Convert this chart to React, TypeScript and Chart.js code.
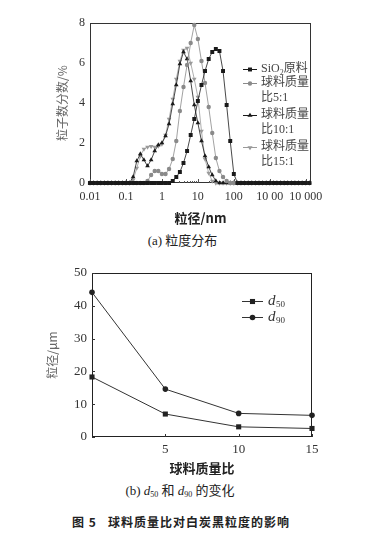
import React, { useEffect, useRef } from 'react';
import { Chart, registerables } from 'chart.js';

Chart.register(...registerables);

// ---------- (a) particle size distribution ----------
const SIZE_BINS = [
  0.01, 0.0126, 0.0158, 0.02, 0.0251, 0.0316, 0.0398, 0.0501, 0.0631, 0.0794,
  0.1, 0.126, 0.158, 0.2, 0.251, 0.316, 0.398, 0.501, 0.631, 0.794,
  1, 1.26, 1.58, 2, 2.51, 3.16, 3.98, 5.01, 6.31, 7.94,
  10, 12.6, 15.8, 20, 25.1, 31.6, 39.8, 50.1, 63.1, 79.4,
  100, 126, 158, 200, 251, 316, 398, 501, 631, 794,
  1000, 1260, 1580, 2000, 2510, 3160, 3980, 5010, 6310, 7940,
  10000, 12600,
];

const SIO2_RAW = [
  0, 0, 0, 0, 0, 0, 0, 0, 0, 0,
  0, 0, 0, 0, 0, 0, 0, 0, 0, 0,
  0, 0, 0, 0.1, 0.3, 0.55, 1.0, 1.6, 2.4, 3.2,
  4.1, 4.9, 5.6, 6.2, 6.55, 6.7, 6.6, 5.6, 3.9, 2.1,
  0.45, 0, 0, 0, 0, 0, 0, 0, 0, 0,
  0, 0, 0, 0, 0, 0, 0, 0, 0, 0,
  0, 0,
];

const RATIO_5_1 = [
  0, 0, 0, 0, 0, 0, 0, 0, 0, 0,
  0, 0, 0, 0, 0, 0, 0.1, 0.4, 0.6, 0.6,
  0.45, 0.45, 0.7, 1.2, 2.1, 3.6, 4.8, 5.9, 7.0, 7.9,
  7.2, 6.1, 5.0, 3.8, 2.5, 1.25, 0.6, 0.3, 0.1, 0,
  0, 0, 0, 0, 0, 0, 0, 0, 0, 0,
  0, 0, 0, 0, 0, 0, 0, 0, 0, 0,
  0, 0,
];

const RATIO_10_1 = [
  0, 0, 0, 0, 0, 0, 0, 0, 0, 0,
  0, 0, 0.3, 1.1, 1.45, 1.15, 0.85, 1.15, 1.6, 1.9,
  2.0, 2.35, 2.95, 3.95, 4.9, 5.95, 6.55, 6.2, 5.1, 3.9,
  3.0, 2.1, 1.35, 0.8, 0.4, 0.1, 0, 0, 0, 0,
  0, 0, 0, 0, 0, 0, 0, 0, 0, 0,
  0, 0, 0, 0, 0, 0, 0, 0, 0, 0,
  0, 0,
];

const RATIO_15_1 = [
  0, 0, 0, 0, 0, 0, 0, 0, 0, 0,
  0, 0, 0.15, 0.75, 1.35, 1.7, 1.8, 1.83, 1.8, 1.85,
  1.95, 2.4, 3.2, 4.2, 5.2, 6.1, 6.65, 6.75, 6.0, 5.2,
  4.3, 2.6, 1.2, 0.5, 0.1, 0, 0, 0, 0, 0,
  0, 0, 0, 0, 0, 0, 0, 0, 0, 0,
  0, 0, 0, 0, 0, 0, 0, 0, 0, 0,
  0, 0,
];

const SIZE_TICKS = [0.01, 0.1, 1, 10, 100, 1000, 10000];
const SIZE_TICK_LABELS = ['0.01', '0.1', '1', '10', '100', '10 00', '10 000'];
const DIST_Y_TICKS = [0, 2, 4, 6, 8];

// ---------- (b) d50 / d90 ----------
const MASS_RATIOS = [0, 5, 10, 15];
const D50 = [18.3, 7.0, 3.1, 2.6];
const D90 = [44.1, 14.6, 7.2, 6.6];
const RATIO_TICKS = [5, 10, 15];
const DIAM_Y_TICKS = [0, 10, 20, 30, 40, 50];

const SERIF = '"Liberation Serif", "Noto Sans CJK SC", serif';
const CJK = '"Noto Sans CJK SC", sans-serif';

function drawMarker(ctx: CanvasRenderingContext2D, style: string, x: number, y: number, r: number, color: string) {
  ctx.save();
  ctx.fillStyle = color;
  ctx.beginPath();
  if (style === 'rect') {
    const s = r * Math.SQRT1_2;
    ctx.rect(x - s, y - s, 2 * s, 2 * s);
  } else if (style === 'circle') {
    ctx.arc(x, y, r, 0, Math.PI * 2);
  } else if (style === 'triangle' || style === 'triangleDown') {
    const dir = style === 'triangle' ? 1 : -1;
    const h = r * 1.5;
    ctx.moveTo(x, y - dir * r);
    ctx.lineTo(x - r * 0.95, y + dir * (h - r));
    ctx.lineTo(x + r * 0.95, y + dir * (h - r));
    ctx.closePath();
  }
  ctx.fill();
  ctx.restore();
}

function drawFrame(chart: any, color: string) {
  const { ctx, chartArea } = chart;
  ctx.save();
  ctx.strokeStyle = color;
  ctx.lineWidth = 1;
  const l = Math.round(chartArea.left) + 0.5;
  const t = Math.round(chartArea.top) + 0.5;
  const r = Math.round(chartArea.right) - 0.5;
  const b = Math.round(chartArea.bottom) - 0.5;
  ctx.strokeRect(l, t, r - l, b - t);
  ctx.restore();
}

const topPlugin = {
  id: 'topDecor',
  beforeDatasetsDraw(chart: any) {
    drawFrame(chart, '#333');
    const { ctx, chartArea, scales } = chart;
    const xs = scales.x;
    ctx.save();
    ctx.strokeStyle = '#555';
    ctx.lineWidth = 1;
    const b = Math.round(chartArea.bottom);
    for (const dec of SIZE_TICKS) {
      for (let m = 1; m <= 9; m++) {
        const v = dec * m;
        if (v > xs.max) continue;
        const px = Math.round(xs.getPixelForValue(v)) + 0.5;
        ctx.beginPath();
        ctx.moveTo(px, b);
        ctx.lineTo(px, b - (m === 1 ? 4 : 2));
        ctx.stroke();
      }
    }
    ctx.restore();
  },
  afterDraw(chart: any) {
    const { ctx } = chart;
    const ds = chart.data.datasets;
    const entries = [
      { i: 0, y: 69, lines: [[{ t: 'SiO' }, { t: '2', sub: true }, { t: '原料' }]] },
      { i: 1, y: 83, lines: [[{ t: '球料质量' }], [{ t: '比5:1' }]] },
      { i: 2, y: 115, lines: [[{ t: '球料质量' }], [{ t: '比10:1' }]] },
      { i: 3, y: 147, lines: [[{ t: '球料质量' }], [{ t: '比15:1' }]] },
    ];
    ctx.save();
    ctx.textBaseline = 'middle';
    ctx.textAlign = 'left';
    for (const e of entries) {
      const d = ds[e.i];
      ctx.strokeStyle = d.borderColor;
      ctx.lineWidth = 1;
      ctx.beginPath();
      ctx.moveTo(243, e.y + 0.5);
      ctx.lineTo(257, e.y + 0.5);
      ctx.stroke();
      drawMarker(ctx, d.legendStyle, 250, e.y + 0.5, d.pointRadius, d.pointBackgroundColor);
      e.lines.forEach((segs: any[], li: number) => {
        let x = 261;
        const y = e.y + li * 15;
        ctx.fillStyle = '#444';
        for (const s of segs) {
          ctx.font = s.sub ? `8px ${SERIF}` : `12px ${SERIF}`;
          ctx.fillText(s.t, x, s.sub ? y + 3.5 : y);
          x += ctx.measureText(s.t).width;
        }
      });
    }
    ctx.restore();
  },
};

const bottomPlugin = {
  id: 'bottomDecor',
  beforeDatasetsDraw(chart: any) {
    drawFrame(chart, '#222');
    const { ctx, chartArea, scales } = chart;
    ctx.save();
    ctx.strokeStyle = '#333';
    ctx.lineWidth = 1;
    const b = Math.round(chartArea.bottom);
    for (const v of RATIO_TICKS) {
      const px = Math.round(scales.x.getPixelForValue(v)) + 0.5;
      ctx.beginPath();
      ctx.moveTo(px, b);
      ctx.lineTo(px, b - 3);
      ctx.stroke();
    }
    const l = Math.round(chartArea.left);
    for (const v of DIAM_Y_TICKS) {
      const py = Math.round(scales.y.getPixelForValue(v)) + 0.5;
      ctx.beginPath();
      ctx.moveTo(l, py);
      ctx.lineTo(l + 3, py);
      ctx.stroke();
    }
    ctx.restore();
  },
  afterDraw(chart: any) {
    const { ctx } = chart;
    const ds = chart.data.datasets;
    const entries = [
      { i: 0, y: 51, sub: '50' },
      { i: 1, y: 67, sub: '90' },
    ];
    ctx.save();
    ctx.textBaseline = 'middle';
    ctx.textAlign = 'left';
    for (const e of entries) {
      const d = ds[e.i];
      ctx.strokeStyle = d.borderColor;
      ctx.lineWidth = 1;
      ctx.beginPath();
      ctx.moveTo(242, e.y + 0.5);
      ctx.lineTo(263, e.y + 0.5);
      ctx.stroke();
      drawMarker(ctx, d.legendStyle, 252.5, e.y + 0.5, d.pointRadius, d.pointBackgroundColor);
      ctx.fillStyle = '#333';
      ctx.font = `italic 15px ${SERIF}`;
      ctx.fillText('d', 268, e.y);
      const w = ctx.measureText('d').width;
      ctx.font = `9px ${SERIF}`;
      ctx.fillText(e.sub, 268 + w + 0.5, e.y + 4);
    }
    ctx.restore();
  },
};

function topConfig(): any {
  const mk = (label: string, vals: number[], color: string, style: string, radius: number, legendStyle: string, rotation = 0) => ({
    label,
    data: SIZE_BINS.map((x, i) => ({ x, y: vals[i] })),
    borderColor: color,
    borderWidth: 0.8,
    pointBackgroundColor: color,
    pointBorderColor: color,
    pointBorderWidth: 0,
    pointRadius: radius,
    pointStyle: style,
    pointRotation: rotation,
    legendStyle,
    tension: 0,
    clip: false,
  });
  return {
    type: 'line',
    data: {
      datasets: [
        mk('SiO2原料', SIO2_RAW, '#1a1a1a', 'rect', 2.8, 'rect'),
        mk('球料质量比5:1', RATIO_5_1, '#8a8a8a', 'circle', 2.2, 'circle'),
        mk('球料质量比10:1', RATIO_10_1, '#1a1a1a', 'triangle', 2.7, 'triangle'),
        mk('球料质量比15:1', RATIO_15_1, '#9a9a9a', 'triangle', 2.7, 'triangleDown', 180),
      ],
    },
    options: {
      animation: false,
      responsive: false,
      events: [],
      layout: { padding: { left: 51, right: 54, top: 23, bottom: 0 } },
      plugins: { legend: { display: false }, tooltip: { enabled: false } },
      scales: {
        x: {
          type: 'logarithmic',
          min: 0.01,
          max: 14000,
          grid: { display: false, drawTicks: false },
          border: { display: false },
          afterBuildTicks: (s: any) => { s.ticks = SIZE_TICKS.map((v) => ({ value: v })); },
          afterFit: (s: any) => { s.height = 47; },
          ticks: {
            autoSkip: false,
            maxRotation: 0,
            padding: 7,
            color: '#333',
            font: { family: SERIF, size: 12 },
            callback: (_v: any, i: number) => SIZE_TICK_LABELS[i],
          },
          title: {
            display: true,
            text: '粒径/nm',
            color: '#222',
            font: { family: CJK, size: 13, weight: 'bold' },
            padding: { top: 4, bottom: 4 },
          },
        },
        y: {
          min: 0,
          max: 8,
          grid: { display: false, drawTicks: false },
          border: { display: false },
          afterBuildTicks: (s: any) => { s.ticks = DIST_Y_TICKS.map((v) => ({ value: v })); },
          afterFit: (s: any) => { s.width = 39; },
          ticks: { padding: 5, color: '#333', font: { family: SERIF, size: 12 } },
          title: {
            display: true,
            text: '粒子数分数/%',
            color: '#666',
            font: { family: CJK, size: 12 },
            padding: { top: 4, bottom: 4 },
          },
        },
      },
    },
    plugins: [topPlugin],
  };
}

function bottomConfig(): any {
  const mk = (label: string, vals: number[], style: string, radius: number) => ({
    label,
    data: MASS_RATIOS.map((x, i) => ({ x, y: vals[i] })),
    borderColor: '#333',
    borderWidth: 1,
    pointBackgroundColor: '#222',
    pointBorderColor: '#222',
    pointBorderWidth: 0,
    pointRadius: radius,
    pointStyle: style,
    legendStyle: style,
    tension: 0,
    clip: false,
  });
  return {
    type: 'line',
    data: {
      datasets: [mk('d50', D50, 'rect', 3.6), mk('d90', D90, 'circle', 2.8)],
    },
    options: {
      animation: false,
      responsive: false,
      events: [],
      layout: { padding: { left: 41, right: 53, top: 23, bottom: 0 } },
      plugins: { legend: { display: false }, tooltip: { enabled: false } },
      scales: {
        x: {
          type: 'linear',
          min: 0,
          max: 15,
          grid: { display: false, drawTicks: false },
          border: { display: false },
          afterBuildTicks: (s: any) => { s.ticks = RATIO_TICKS.map((v) => ({ value: v })); },
          afterFit: (s: any) => { s.height = 43; },
          ticks: { autoSkip: false, maxRotation: 0, padding: 5, color: '#333', font: { family: SERIF, size: 13 } },
          title: {
            display: true,
            text: '球料质量比',
            color: '#222',
            font: { family: CJK, size: 13, weight: 'bold' },
            padding: { top: 4, bottom: 4 },
          },
        },
        y: {
          min: 0,
          max: 50,
          grid: { display: false, drawTicks: false },
          border: { display: false },
          afterBuildTicks: (s: any) => { s.ticks = DIAM_Y_TICKS.map((v) => ({ value: v })); },
          afterFit: (s: any) => { s.width = 51; },
          ticks: { padding: 5, color: '#333', font: { family: SERIF, size: 13 } },
          title: {
            display: true,
            text: '粒径/μm',
            color: '#666',
            font: { family: CJK, size: 12 },
            padding: { top: 4, bottom: 4 },
          },
        },
      },
    },
    plugins: [bottomPlugin],
  };
}

export default function App() {
  const topRef = useRef<HTMLCanvasElement>(null);
  const botRef = useRef<HTMLCanvasElement>(null);

  useEffect(() => {
    const c1 = new Chart(topRef.current as HTMLCanvasElement, topConfig());
    const c2 = new Chart(botRef.current as HTMLCanvasElement, bottomConfig());
    return () => {
      c1.destroy();
      c2.destroy();
    };
  }, []);

  const caption: React.CSSProperties = {
    position: 'absolute',
    left: 0,
    width: 365,
    textAlign: 'center',
    color: '#222',
    whiteSpace: 'nowrap',
  };

  return (
    <div style={{ position: 'absolute', left: 0, top: 0, width: 365, height: 535, background: '#fff', overflow: 'hidden' }}>
      <canvas ref={topRef} width={365} height={230} style={{ position: 'absolute', left: 0, top: 0, width: 365, height: 230 }} />
      <canvas ref={botRef} width={365} height={230} style={{ position: 'absolute', left: 0, top: 250, width: 365, height: 230 }} />
      <div style={{ ...caption, top: 232, height: 18, lineHeight: '18px', fontSize: 13, fontFamily: SERIF }}>
        (a) 粒度分布
      </div>
      <div style={{ ...caption, width: 360, top: 482, height: 18, lineHeight: '18px', fontSize: 13, fontFamily: SERIF }}>
        (b) <i>d</i><sub style={{ fontSize: 8, verticalAlign: '-2px' }}>50</sub> 和 <i>d</i><sub style={{ fontSize: 8, verticalAlign: '-2px' }}>90</sub> 的变化
      </div>
      <div style={{ ...caption, width: 362, top: 513, height: 18, lineHeight: '18px', fontSize: 12, fontWeight: 'bold', fontFamily: CJK, letterSpacing: 1 }}>
        图 5&nbsp;&nbsp;&nbsp;球料质量比对白炭黑粒度的影响
      </div>
    </div>
  );
}
